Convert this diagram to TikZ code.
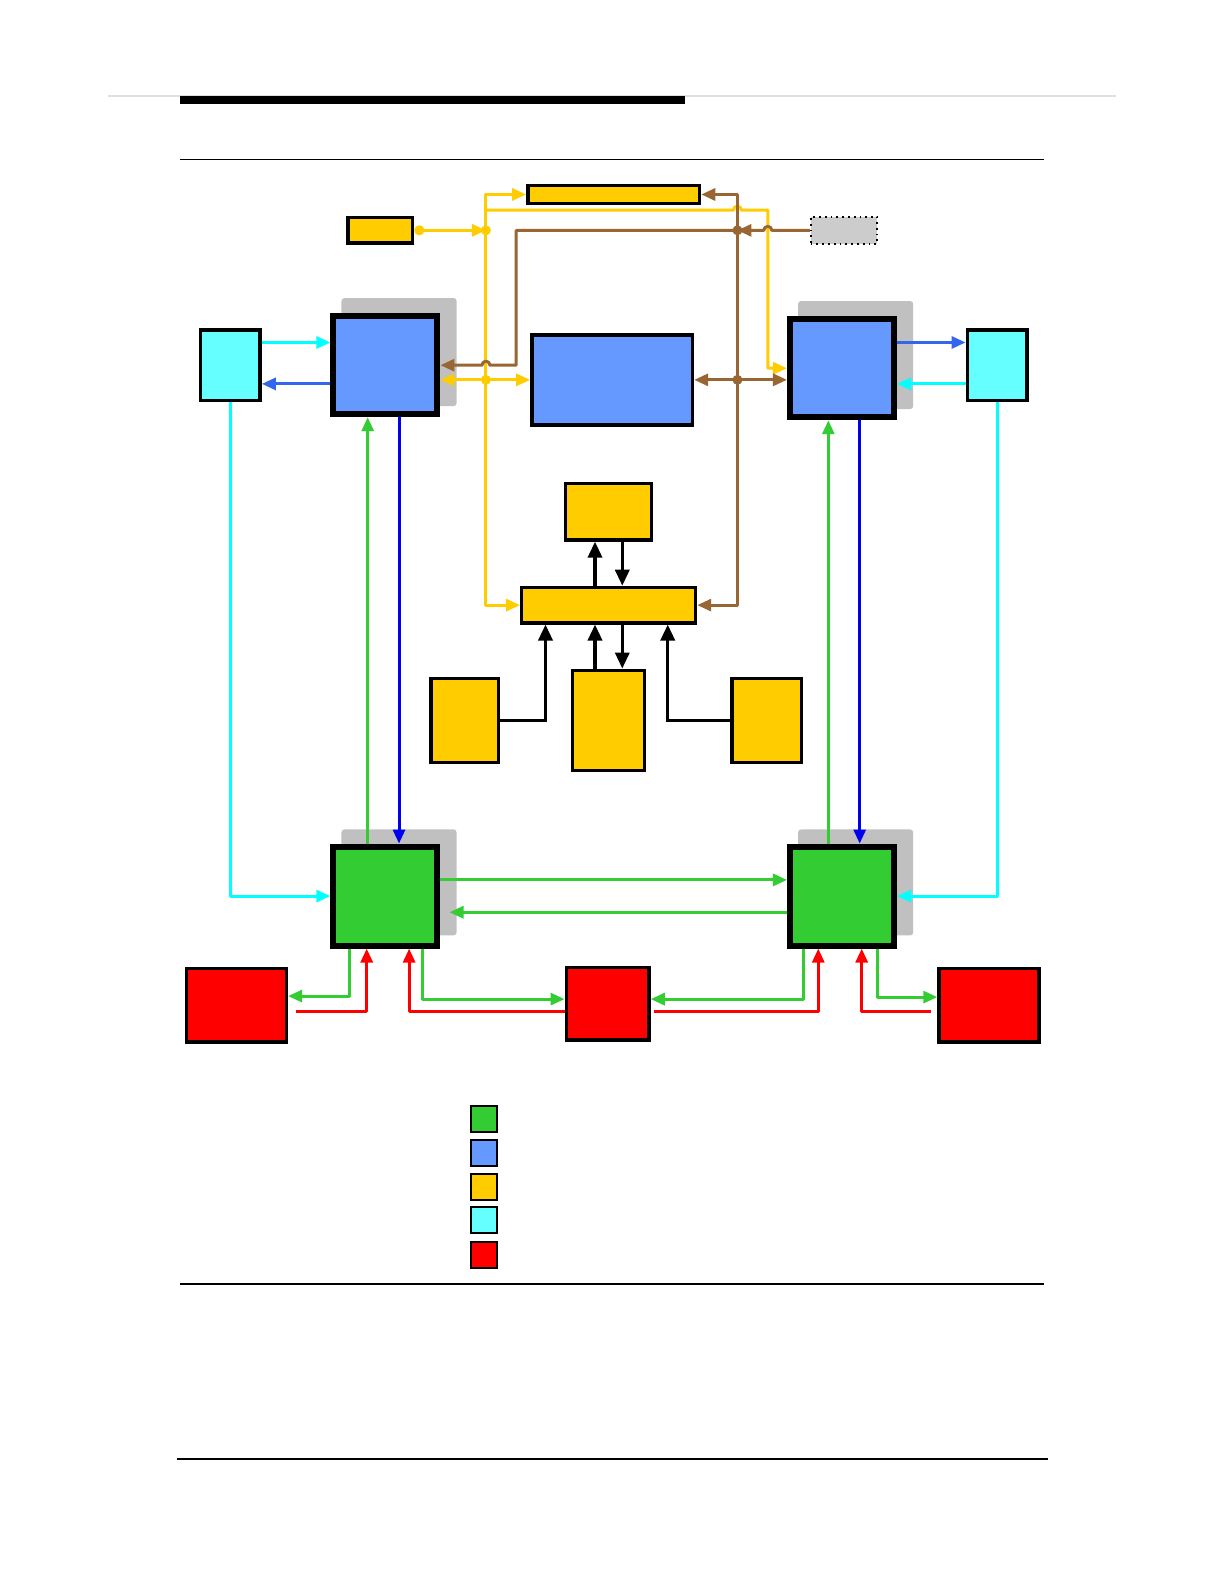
\documentclass[tikz,border=0pt]{standalone}
\usepackage{tikz}
\usetikzlibrary{arrows.meta,calc,backgrounds}
\definecolor{boxgold}{HTML}{FFCC00}
\definecolor{boxblue}{HTML}{6699FF}
\definecolor{boxcyan}{HTML}{66FFFF}
\definecolor{boxgreen}{HTML}{33CC33}
\definecolor{boxred}{HTML}{FF0000}
\definecolor{linkbrown}{HTML}{996633}
\definecolor{linkcyan}{HTML}{00FFFF}
\definecolor{linkroyal}{HTML}{3366EE}
\definecolor{linkblue}{HTML}{0000EE}
\definecolor{shadowgray}{HTML}{C0C0C0}

\begin{document}
\begin{tikzpicture}[
    x=0.505bp, y=-0.505bp,
    >={Triangle[length=7bp,width=6bp]},
    box/.style={draw, line width=1.7bp, fill=#1, inner sep=0pt},
    bigbox/.style={draw, line width=3bp, fill=#1, inner sep=0pt},
    sz/.style 2 args={minimum width=#1*0.505bp, minimum height=#2*0.505bp},
    link/.style={draw=#1, line width=1.5bp, line join=round, ->},
    blk/.style={draw, line width=1.7bp, -{Triangle[length=8bp,width=7bp]}},
    dot/.style={fill=#1, circle, inner sep=0pt, minimum size=5bp},
    legend/.style={draw, line width=0.9bp, fill=#1, inner sep=0pt, minimum size=13bp},
    shade/.style={fill=shadowgray, rounded corners=1.5bp},
]
\useasboundingbox (0,0) rectangle (1212,1568);

% page rules
\draw[gray!25, line width=0.6bp] (107,95) -- (1105,95);
\fill[black] (178,95) rectangle (678,103);
\draw[line width=0.75bp] (178,158) -- (1033,158);
\draw[line width=0.75bp] (178,1271) -- (1033,1271);
\draw[line width=0.75bp] (175,1444) -- (1037,1444);

% top row
\node[box=boxgold, sz={170}{18}] (topbar) at (607.5,192.5) {};
\node[box=boxgold, sz={64}{25}] (src) at (376.5,228) {};
\node[draw, dotted, line width=0.9bp, fill=black!20, inner sep=0pt, sz={66}{27}] (ghost) at (835.5,228) {};

% blue row
\node[box=boxcyan, sz={59}{70}] (cyanL) at (228,361.5) {};
\node[bigbox=boxblue, sz={103}{97}] (blueL) at (381.5,361.5) {};
\node[box=boxblue, sz={159}{89}] (blueC) at (606,376) {};
\node[bigbox=boxblue, sz={103}{97}] (blueR) at (833.5,364.5) {};
\node[box=boxcyan, sz={59}{70}] (cyanR) at (987,361.5) {};

% yellow cluster
\node[box=boxgold, sz={85}{56}] (ctrl) at (602.5,506.5) {};
\node[box=boxgold, sz={172}{35}] (bus) at (602.5,599) {};
\node[box=boxgold, sz={67}{83}] (yBL) at (460,713) {};
\node[box=boxgold, sz={71}{99}] (yBC) at (602.5,713) {};
\node[box=boxgold, sz={69}{83}] (yBR) at (759,713) {};

% green row
\node[bigbox=boxgreen, sz={103}{98}] (greenL) at (381.5,887) {};
\node[bigbox=boxgreen, sz={103}{98}] (greenR) at (833.5,887) {};

% red row
\node[box=boxred, sz={99}{73}] (redL) at (234,995) {};
\node[box=boxred, sz={82}{72}] (redC) at (601.5,993.5) {};
\node[box=boxred, sz={99}{73}] (redR) at (979,995) {};

% legend
\node[legend=boxgreen] (keyGreen) at (479,1108) {};
\node[legend=boxblue] (keyBlue) at (479,1141.5) {};
\node[legend=boxgold] (keyGold) at (479,1175) {};
\node[legend=boxcyan] (keyCyan) at (479,1208) {};
\node[legend=boxred] (keyRed) at (479,1242) {};

% shadows
\begin{scope}[on background layer]
\fill[shade] ($(blueL.north west)+(11,-15)$) rectangle ($(blueL.south east)+(16,-11)$);
\fill[shade] ($(blueR.north west)+(11,-15)$) rectangle ($(blueR.south east)+(16,-11)$);
\fill[shade] ($(greenL.north west)+(11,-14)$) rectangle ($(greenL.south east)+(16,-13)$);
\fill[shade] ($(greenR.north west)+(11,-14)$) rectangle ($(greenR.south east)+(16,-13)$);
\end{scope}

% junctions
\coordinate (yj) at (481,228);
\coordinate (yk) at (481,208);
\coordinate (bj) at (730,228);
\coordinate (ym) at (blueL.east |- blueC.west);
\coordinate (bm) at (blueR.west |- blueC.east);
\coordinate (cR1) at ($(cyanR.west)+(0,-22.5)$);
\coordinate (cR2) at ($(cyanR.west)+(0,18.5)$);

% gold links
\draw[link=boxgold, {Circle[length=5bp]}->] (src.east) -- (yj);
\draw[link=boxgold] (yj) |- (topbar.west);
\draw[link=boxgold] (yj) |- (bus.west);
\draw[link=boxgold] (yk) -- (726,208) arc[start angle=180, end angle=0, radius=2bp]
    -- (760,208) |- (blueR.west);
\draw[link=boxgold, <->] (ym) -- (blueC.west);

% brown links
\draw[link=linkbrown] (ghost.west) -- (764,228) arc[start angle=0, end angle=180, radius=2bp] -- (bj);
\draw[link=linkbrown] (bj) -- (511,228) -- (511,361.5) -- (485,361.5)
    arc[start angle=0, end angle=180, radius=2bp] -- (blueL.east);
\draw[link=linkbrown] (bj) |- (topbar.east);
\draw[link=linkbrown] (bj) |- (bus.east);
\draw[link=linkbrown, <->] (blueC.east) -- (bm);

\node[dot=boxgold] at (yj) {};
\node[dot=boxgold] at (481,376) {};
\node[dot=linkbrown] at (bj) {};
\node[dot=linkbrown] at (730,376) {};

% cyan side links
\draw[link=linkcyan] ($(cyanL.east)+(0,-22.5)$) -- ($(blueL.west)+(0,-22.5)$);
\draw[link=linkroyal] ($(blueL.west)+(0,18.5)$) -- ($(cyanL.east)+(0,18.5)$);
\draw[link=linkcyan] (cyanL.south) |- (greenL.west);
\draw[link=linkroyal] (blueR.east |- cR1) -- (cR1);
\draw[link=linkcyan] (cR2) -- (blueR.east |- cR2);
\draw[link=linkcyan] (cyanR.south) |- (greenR.east);

% vertical links
\draw[link=boxgreen] ($(greenL.north)+(-17.5,0)$) -- ($(blueL.south)+(-17.5,0)$);
\draw[link=linkblue] ($(blueL.south)+(13.5,0)$) -- ($(greenL.north)+(13.5,0)$);
\draw[link=boxgreen] ($(greenR.north)+(-13.5,0)$) -- ($(blueR.south)+(-13.5,0)$);
\draw[link=linkblue] ($(blueR.south)+(17.5,0)$) -- ($(greenR.north)+(17.5,0)$);

% green cross links
\draw[link=boxgreen] ($(greenL.east)+(0,-16)$) -- ($(greenR.west)+(0,-16)$);
\draw[link=boxgreen] ($(greenR.west)+(0,16)$) -- ($(greenL.east)+(9,16)$);

% bottom links
\draw[link=boxgreen] ($(greenL.south)+(-35.5,0)$) |- ($(redL.east)+(0,-9)$);
\draw[link=boxred] ($(redL.east)+(8,6)$) -| ($(greenL.south)+(-18.5,0)$);
\draw[link=boxred] ($(redC.west)+(0,7.5)$) -| ($(greenL.south)+(23.5,0)$);
\draw[link=boxgreen] ($(greenL.south)+(36.5,0)$) |- ($(redC.west)+(0,-4.5)$);
\draw[link=boxgreen] ($(greenR.south)+(-38.5,0)$) |- ($(redC.east)+(0,-4.5)$);
\draw[link=boxred] ($(redC.east)+(3,7.5)$) -| ($(greenR.south)+(-23.5,0)$);
\draw[link=boxred] ($(redR.west)+(-6,6)$) -| ($(greenR.south)+(19.5,0)$);
\draw[link=boxgreen] ($(greenR.south)+(35.5,0)$) |- ($(redR.west)+(0,-8)$);

% black links
\draw[blk] ($(bus.north)+(-13.5,0)$) -- ($(ctrl.south)+(-13.5,0)$);
\draw[blk] ($(ctrl.south)+(13.5,0)$) -- ($(bus.north)+(13.5,0)$);
\draw[blk] (yBL.east) -| ($(bus.south)+(-62.5,0)$);
\draw[blk] ($(yBC.north)+(-13.5,0)$) -- ($(bus.south)+(-13.5,0)$);
\draw[blk] ($(bus.south)+(13.5,0)$) -- ($(yBC.north)+(13.5,0)$);
\draw[blk] (yBR.west) -| ($(bus.south)+(58.5,0)$);
\end{tikzpicture}
\end{document}
